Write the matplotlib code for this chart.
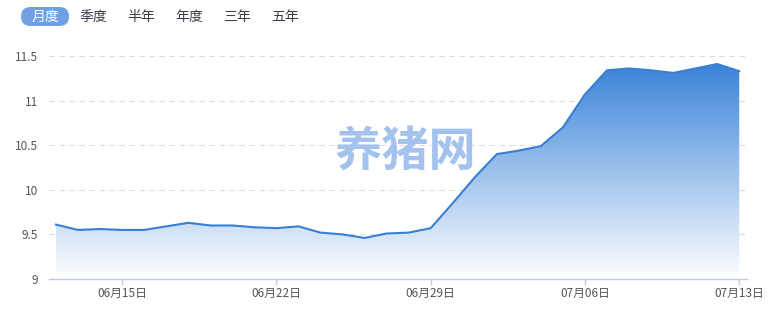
import matplotlib
matplotlib.use("Agg")
import matplotlib.pyplot as plt
import numpy as np
from matplotlib.patches import FancyBboxPatch

plt.rcParams['font.family'] = ['Noto Sans CJK SC', 'DejaVu Sans']

dates = ["06-12", "06-13", "06-14", "06-15", "06-16", "06-17", "06-18", "06-19",
         "06-20", "06-21", "06-22", "06-23", "06-24", "06-25", "06-26", "06-27",
         "06-28", "06-29", "06-30", "07-01", "07-02", "07-03", "07-04", "07-05",
         "07-06", "07-07", "07-08", "07-09", "07-10", "07-11", "07-12", "07-13"]
prices = [9.61, 9.55, 9.56, 9.55, 9.55, 9.59, 9.63, 9.60,
          9.60, 9.58, 9.57, 9.59, 9.52, 9.50, 9.46, 9.51,
          9.52, 9.57, 9.85, 10.14, 10.40, 10.44, 10.49, 10.70,
          11.07, 11.34, 11.36, 11.34, 11.31, 11.36, 11.41, 11.33]
tick_dates = ["06-15", "06-22", "06-29", "07-06", "07-13"]
tick_labels = ["06月15日", "06月22日", "06月29日", "07月06日", "07月13日"]
y_ticks = [9, 9.5, 10, 10.5, 11, 11.5]
y_labels = ["9", "9.5", "10", "10.5", "11", "11.5"]
buttons = ["月度", "季度", "半年", "年度", "三年", "五年"]

W, H = 777, 316
fig = plt.figure(figsize=(W / 100, H / 100), dpi=100)
left, right, top, bottom = 49, 746.5, 56, 279
ax = fig.add_axes([left / W, 1 - bottom / H, (right - left) / W, (bottom - top) / H])

x = np.arange(len(prices))
y = np.array(prices)
xmin, xmax = -0.32, len(prices) - 1 + 0.33
ax.set_xlim(xmin, xmax)
ax.set_ylim(9, 11.5)

# gradient fill
top_c = np.array([58, 131, 217]) / 255
bot_c = np.array([255, 255, 255]) / 255
ymax = y.max()
n = 256
t = np.linspace(0, 1, n)[:, None]
grad = top_c[None, :] * (1 - t) + bot_c[None, :] * t
img = np.repeat(grad[:, None, :], 2, axis=1)
poly = ax.fill_between(x, y, 9, color='none', lw=0)
im = ax.imshow(img, extent=[x[0], x[-1], 9, ymax], aspect='auto', origin='upper', zorder=1)
path = poly.get_paths()[0]
im.set_clip_path(path, transform=ax.transData)

ax.plot(x, y, color='#3a7fd6', lw=1.5, zorder=3, solid_joinstyle='round')

# grid
for v in y_ticks[1:]:
    ax.axhline(v, color='#dcdcdc', lw=0.8, ls=(0, (5, 4)), zorder=0.5)

for s in ['top', 'right', 'left']:
    ax.spines[s].set_visible(False)
ax.spines['bottom'].set_color('#c3cbdb')
ax.spines['bottom'].set_linewidth(1.0)

ax.set_yticks(y_ticks)
ax.set_yticklabels(y_labels)
ax.tick_params(axis='y', length=0, pad=8, labelsize=8.5, labelcolor='#555555')
ax.set_xticks([dates.index(d) for d in tick_dates])
ax.set_xticklabels(tick_labels)
ax.tick_params(axis='x', length=4, width=1, color='#c3cbdb', pad=1.5, labelsize=8.5,
               labelcolor='#555555')

# overlay in pixel coordinates
ov = fig.add_axes([0, 0, 1, 1], facecolor='none')
ov.set_xlim(0, W)
ov.set_ylim(H, 0)
ov.axis('off')

# watermark
ov.text(405, 152, "养猪网", ha='center', va='center', fontsize=34,
        fontweight='bold', color='#a3c3ee', zorder=10)

# buttons
pill = FancyBboxPatch((21, 7), 48, 19, boxstyle="round,pad=0,rounding_size=9.5",
                      facecolor='#6fa1e2', edgecolor='none')
ov.add_patch(pill)
bx = [45, 93, 141, 189, 237, 285]
for i, (b, px) in enumerate(zip(buttons, bx)):
    ov.text(px, 16.5, b, ha='center', va='center', fontsize=10,
            color='white' if i == 0 else '#3a3f4f')

fig.savefig("out.png", dpi=100)
